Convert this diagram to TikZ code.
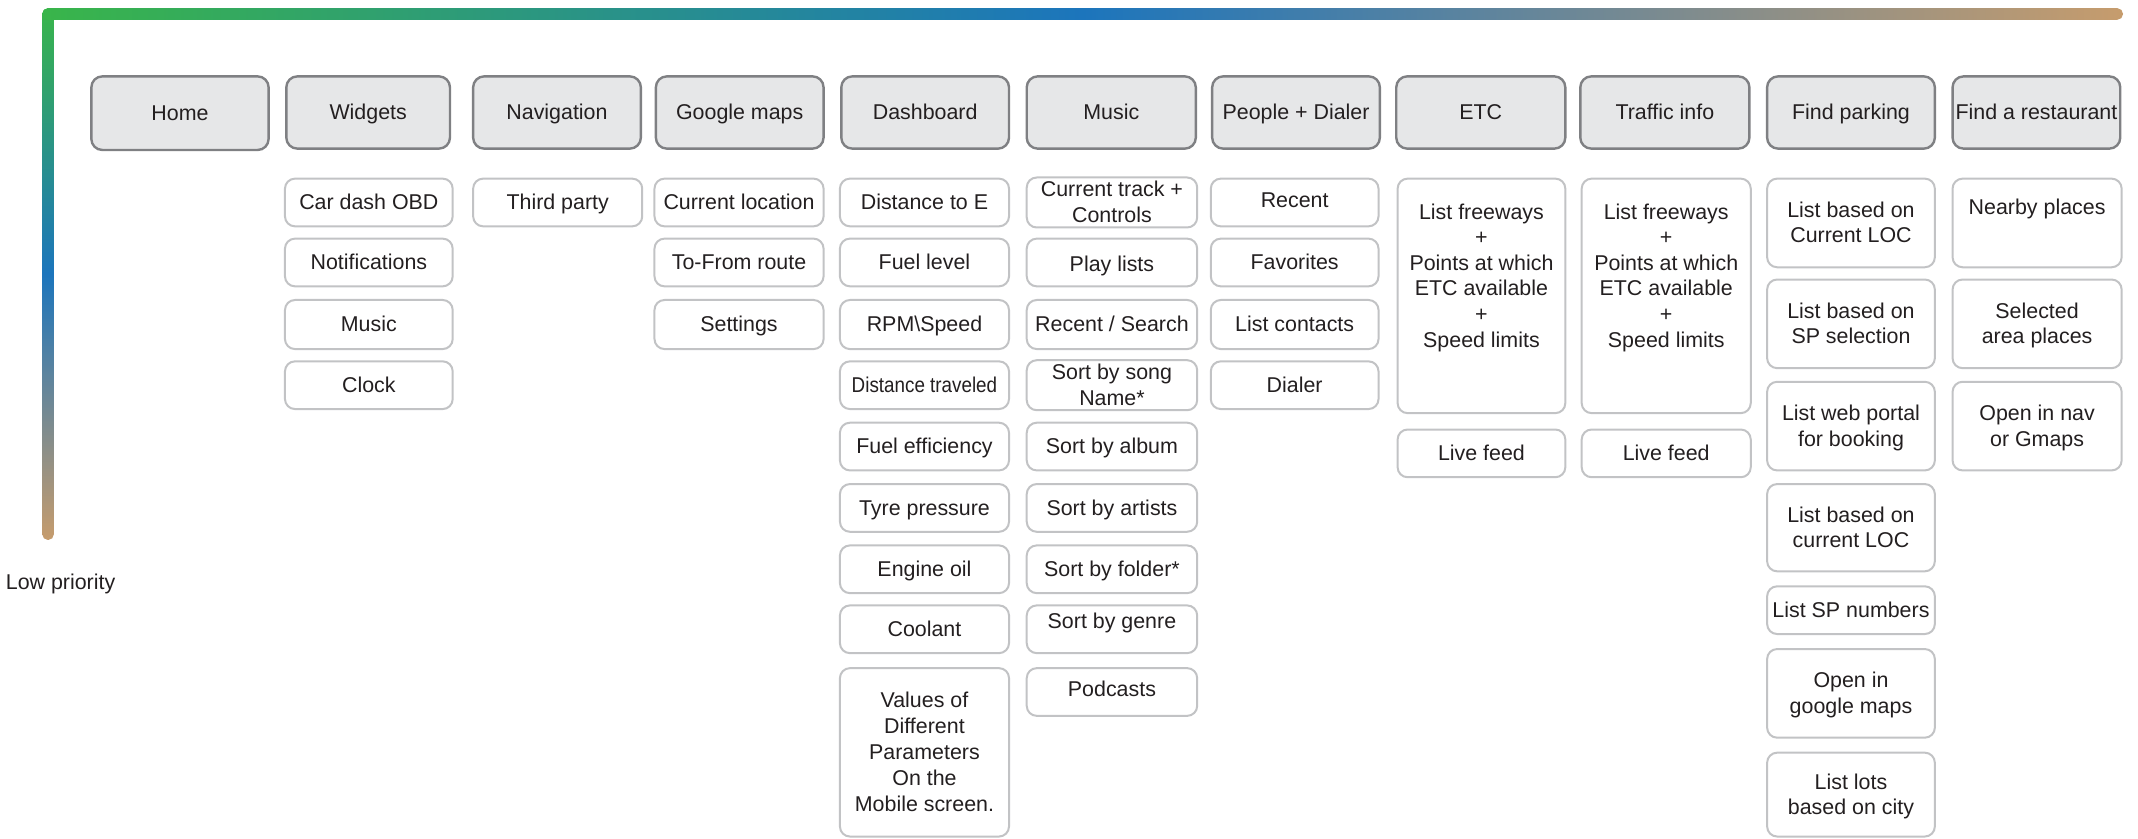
\documentclass[tikz,border=0pt]{standalone}
\usepackage{fontspec}
\setmainfont{Liberation Sans}
\definecolor{hfill}{HTML}{E6E7E8}
\definecolor{hdraw}{HTML}{7F8083}
\definecolor{cdraw}{HTML}{C2C3C5}
\definecolor{txtc}{HTML}{231F20}
\definecolor{gg}{HTML}{39B54A}
\definecolor{gb}{HTML}{1C75BC}
\definecolor{gt}{HTML}{C69C6D}
\newcommand\mystrut{\rule[-2.4pt]{0pt}{12pt}}
\newcommand\bx[7]{\node[#2, minimum width={(#5-(#3))*0.68175pt}, minimum height={(#6-(#4))*0.68175pt}] (#1) at ({(#3+#5)/2},{(#4+#6)/2}) {\mystrut #7\mystrut};}
\newcommand\bxt[8]{\node[#2, minimum width={(#5-(#3))*0.68175pt}, minimum height={(#6-(#4))*0.68175pt}] (#1) at ({(#3+#5)/2},{(#4+#6)/2}) {};
\node[txt] (#1t) at ({(#3+#5)/2},#7) {#8};}
\begin{document}
\begin{tikzpicture}[x=0.68175pt,y=-0.68175pt,
  fnt/.style={font=\fontsize{10.7}{12.8}\selectfont},
  hdr/.style={draw=hdraw, fill=hfill, line width=1.2pt, rounded corners=5.5pt, inner sep=0pt, align=center, fnt, text=txtc},
  chd/.style={draw=cdraw, fill=white, line width=1pt, rounded corners=5pt, inner sep=0pt, align=center, fnt, text=txtc},
  txt/.style={inner sep=0pt, align=center, fnt, text=txtc}]
\useasboundingbox (0,0) rectangle (1568,614.6);
% gradient axis
\shade[top color=gg, bottom color=gt, middle color=gb, rounded corners=2.8pt] (31,6) rectangle (39.5,396);
\shade[left color=gg, right color=gt, middle color=gb, rounded corners=2.8pt] (31,6) rectangle (1557,14.5);
\node[txt, anchor=west] (low) at (4,428) {Low priority};
% headers
\bx{hHome}{hdr}{67}{56}{197}{110}{Home}
\bx{hWid}{hdr}{210}{56}{330}{109}{Widgets}
\bx{hNav}{hdr}{347}{56}{470}{109}{Navigation}
\bx{hGoo}{hdr}{481}{56}{604}{109}{Google maps}
\bx{hDash}{hdr}{617}{56}{740}{109}{Dashboard}
\bx{hMus}{hdr}{753}{56}{877}{109}{Music}
\bx{hPeo}{hdr}{889}{56}{1012}{109}{People + Dialer}
\bx{hEtc}{hdr}{1024}{56}{1148}{109}{ETC}
\bx{hTra}{hdr}{1159}{56}{1283}{109}{Traffic info}
\bx{hPar}{hdr}{1296}{56}{1419}{109}{Find parking}
\bx{hRes}{hdr}{1432}{56}{1555}{109}{Find a restaurant}
% widgets
\bx{w1}{chd}{209}{131}{332}{166}{Car dash OBD}
\bx{w2}{chd}{209}{175}{332}{210}{Notifications}
\bx{w3}{chd}{209}{220}{332}{256}{Music}
\bx{w4}{chd}{209}{265}{332}{300}{Clock}
% navigation
\bx{n1}{chd}{347}{131}{471}{166}{Third party}
% google maps
\bx{g1}{chd}{480}{131}{604}{166}{Current location}
\bx{g2}{chd}{480}{175}{604}{210}{To-From route}
\bx{g3}{chd}{480}{220}{604}{256}{Settings}
% dashboard
\bx{d1}{chd}{616}{131}{740}{166}{Distance to E}
\bx{d2}{chd}{616}{175}{740}{210}{Fuel level}
\bx{d3}{chd}{616}{220}{740}{256}{RPM\textbackslash Speed}
\bx{d4}{chd}{616}{265}{740}{300}{\scalebox{0.88}[1]{Distance traveled}}
\bx{d5}{chd}{616}{310}{740}{345}{Fuel efficiency}
\bx{d6}{chd}{616}{355}{740}{390}{Tyre pressure}
\bx{d7}{chd}{616}{400}{740}{435}{Engine oil}
\bx{d8}{chd}{616}{444}{740}{479}{Coolant}
\bx{d9}{chd, font=\fontsize{10.7}{13}\selectfont}{616}{490}{740}{613.5}{Values of\\Different\\Parameters\\On the\\Mobile screen.}
% music
\bx{m1}{chd, font=\fontsize{10.7}{10.3}\selectfont}{753}{131}{878}{166}{Current track +\\Controls}
\bxt{m2}{chd}{753}{175}{878}{210}{195}{Play lists}
\bx{m3}{chd}{753}{220}{878}{256}{Recent / Search}
\bx{m4}{chd, font=\fontsize{10.7}{10.9}\selectfont}{753}{265}{878}{300}{Sort by song\\Name*}
\bx{m5}{chd}{753}{310}{878}{345}{Sort by album}
\bx{m6}{chd}{753}{355}{878}{390}{Sort by artists}
\bx{m7}{chd}{753}{400}{878}{435}{Sort by folder*}
\bxt{m8}{chd}{753}{444}{878}{479}{457}{Sort by genre}
\bxt{m9}{chd}{753}{490}{878}{525}{505}{Podcasts}
% people
\bxt{p1}{chd}{888}{131}{1011}{166}{146.5}{Recent}
\bx{p2}{chd}{888}{175}{1011}{210}{Favorites}
\bx{p3}{chd}{888}{220}{1011}{256}{List contacts}
\bx{p4}{chd}{888}{265}{1011}{300}{Dialer}
% ETC
\bxt{e1}{chd}{1025}{131}{1148}{303}{203.5}{\fontsize{10.7}{13}\selectfont List freeways\\+\\Points at which\\ETC available\\+\\Speed limits}
\bx{e2}{chd}{1025}{315}{1148}{350}{Live feed}
% traffic
\bxt{t1}{chd}{1160}{131}{1284}{303}{203.5}{\fontsize{10.7}{13}\selectfont List freeways\\+\\Points at which\\ETC available\\+\\Speed limits}
\bx{t2}{chd}{1160}{315}{1284}{350}{Live feed}
% parking
\bx{f1}{chd}{1296}{131}{1419}{196}{List based on\\Current LOC}
\bx{f2}{chd}{1296}{205}{1419}{270}{List based on\\SP selection}
\bx{f3}{chd}{1296}{280}{1419}{345}{List web portal\\for booking}
\bx{f4}{chd}{1296}{355}{1419}{419}{List based on\\current LOC}
\bx{f5}{chd}{1296}{430}{1419}{465}{List SP numbers}
\bx{f6}{chd}{1296}{476}{1419}{541}{Open in\\google maps}
\bx{f7}{chd}{1296}{552}{1419}{613.5}{List lots\\based on city}
% restaurant
\bxt{r1}{chd}{1432}{131}{1556}{196}{153}{Nearby places}
\bx{r2}{chd}{1432}{205}{1556}{270}{Selected\\area places}
\bx{r3}{chd}{1432}{280}{1556}{345}{Open in nav\\or Gmaps}
\end{tikzpicture}
\end{document}
